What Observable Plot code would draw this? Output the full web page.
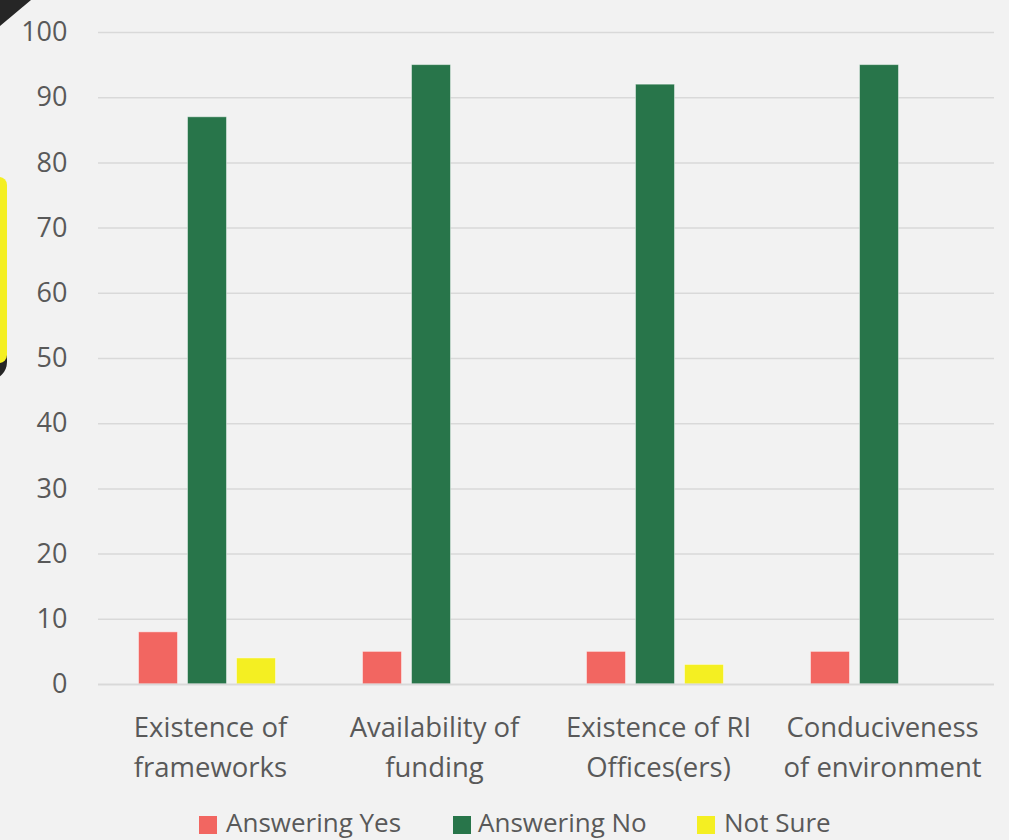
<!DOCTYPE html>
<html><head><meta charset="utf-8">
<script src="https://cdn.jsdelivr.net/npm/d3@7"></script>
<script src="https://cdn.jsdelivr.net/npm/@observablehq/plot@0.6"></script>
<style>
html,body{margin:0;padding:0;background:#f2f2f2;}
body{width:1009px;height:840px;overflow:hidden;position:relative;font-family:"Open Sans",sans-serif;color:#595959;}
#chart{position:absolute;left:0;top:0;}
.deco-tri{position:absolute;left:0;top:0;width:31px;height:26px;background:#262626;clip-path:polygon(0 0,100% 0,0 100%);}
.deco-black{position:absolute;left:-30px;top:190px;width:37px;height:190px;background:#262626;border-radius:18px;}
.deco-yellow{position:absolute;left:-30px;top:177px;width:37px;height:186px;background:#f4ef22;border-radius:8px;}
.lg-sw{position:absolute;top:816px;width:18px;height:18px;}
.lg-tx{position:absolute;top:809px;font-size:26px;line-height:26px;white-space:nowrap;color:#595959;}
</style></head><body>
<div class="deco-tri"></div>
<div class="deco-black"></div>
<div class="deco-yellow"></div>
<div id="chart"></div>
<div id="legend"></div>
<script>
const categories = ["Existence of\nframeworks", "Availability of\nfunding", "Existence of RI\nOffices(ers)", "Conduciveness\nof environment"];
const series = ["Answering Yes", "Answering No", "Not Sure"];
const yesValues = [8, 5, 5, 5];
const noValues = [87, 95, 92, 95];
const notSureValues = [4, 0, 3, 0];
const colors = ["#f26661", "#28754a", "#f4ef22"];
const yTicks = [0, 10, 20, 30, 40, 50, 60, 70, 80, 90, 100];

const valueArrays = [yesValues, noValues, notSureValues];
const data = categories.flatMap((c, i) => series.map((s, j) => ({cat: c, series: s, value: valueArrays[j][i]})));

const chart = Plot.plot({
  width: 1009, height: 806,
  marginTop: 32, marginBottom: 122, marginLeft: 97, marginRight: 14,
  style: {background: "transparent", fontFamily: "'Open Sans', sans-serif", color: "#595959"},
  fx: {domain: categories, padding: 0, label: null},
  x: {domain: series, paddingInner: 0.2, paddingOuter: 0.86, axis: null},
  y: {domain: [0, 100], axis: null},
  color: {domain: series, range: colors},
  marks: [
    Plot.ruleY(yTicks.filter(t => t > 0), {stroke: "#d9d9d9", strokeWidth: 1.5}),
    Plot.barY(data.filter(d => d.value > 0), {fx: "cat", x: "series", y: "value", fill: "series", stroke: "#ffffff", strokeOpacity: 0.45, strokeWidth: 1, dx: -2.5}),
    Plot.ruleY([0], {stroke: "#d9d9d9", strokeWidth: 2}),
    Plot.axisY({ticks: yTicks, tickSize: 0, tickPadding: 31, label: null, fontSize: 27, fill: "#595959"}),
    Plot.axisFx({anchor: "bottom", tickSize: 0, tickPadding: 24, label: null, fontSize: 27.5, lineHeight: 1.45, fill: "#595959"})
  ]
});
document.getElementById("chart").appendChild(chart);

const legend = document.getElementById("legend");
const swX = [199, 453, 697];
const txX = [226, 478, 724];
series.forEach((s, i) => {
  const sw = document.createElement("div");
  sw.className = "lg-sw"; sw.style.left = swX[i] + "px"; sw.style.background = colors[i];
  const tx = document.createElement("div");
  tx.className = "lg-tx"; tx.style.left = txX[i] + "px"; tx.textContent = s;
  legend.appendChild(sw); legend.appendChild(tx);
});
</script>
</body></html>
